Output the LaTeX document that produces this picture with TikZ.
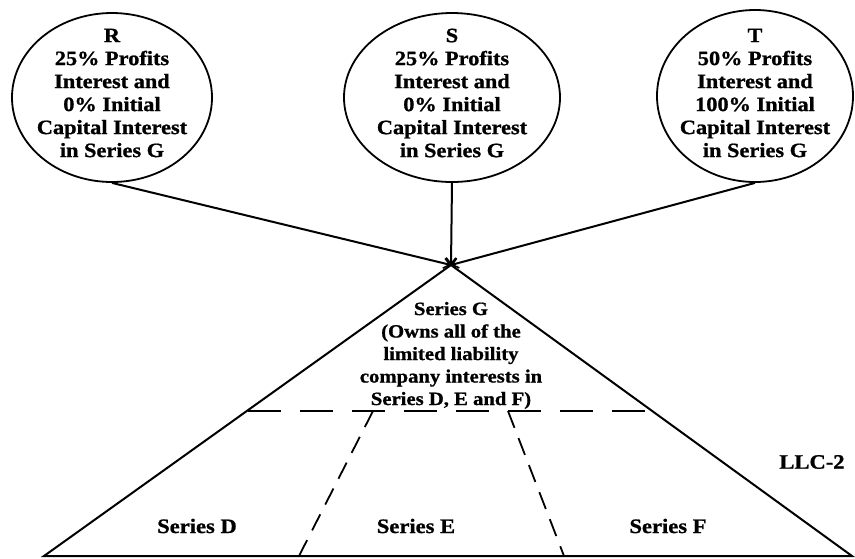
\documentclass[tikz,border=0pt]{standalone}
\usepackage{fontspec}
\setmainfont{Liberation Serif}[FakeStretch=1.1,BoldFeatures={FakeBold=1}]
\usetikzlibrary{shapes.geometric,arrows.meta}
\begin{document}
\begin{tikzpicture}[x=1pt,y=-1pt,
  oval/.style={ellipse,draw,line width=1.8pt,inner sep=0pt},
  ovaltext/.style={align=center,inner sep=0pt,font=\fontsize{20.3}{23}\selectfont\bfseries},
  gtext/.style={align=center,inner sep=0pt,font=\fontsize{18.8}{22.5}\selectfont\bfseries},
  lbl/.style={inner sep=0pt,font=\fontsize{20.5}{24}\selectfont\bfseries},
  link/.style={line width=2pt,-{Straight Barb[length=6pt,width=10pt,line width=1.6pt]}},
  edge/.style={line width=2pt},
  longdash/.style={line width=2pt,dash pattern=on 33pt off 19pt},
  slantdash/.style={line width=1.8pt,dash pattern=on 18pt off 11pt}]
\useasboundingbox (0,0) rectangle (855,558);
% owners
\node[oval,minimum width=200pt,minimum height=169pt] (R) at (112,97.5) {};
\node[oval,minimum width=216pt,minimum height=169pt] (S) at (452,97.5) {};
\node[oval,minimum width=196pt,minimum height=172pt] (T) at (755,96) {};
\node[ovaltext] (Rt) at (112,93) {R\\25\% Profits\\Interest and\\0\% Initial\\Capital Interest\\in Series G};
\node[ovaltext] (St) at (452,93) {S\\25\% Profits\\Interest and\\0\% Initial\\Capital Interest\\in Series G};
\node[ovaltext] (Tt) at (755,93) {T\\50\% Profits\\Interest and\\100\% Initial\\Capital Interest\\in Series G};
% triangle
\coordinate (apex) at (451,265);
\coordinate (bl) at (44,556);
\coordinate (br) at (852,556);
\draw[edge,line join=miter] (apex) -- (bl) -- (br) -- cycle;
\draw[link] (R.south) -- (apex);
\draw[link] (S.south) -- (apex);
\draw[link] (T.south) -- (apex);
% dashed divisions
\coordinate (hl) at (248,411);
\coordinate (hr) at (652,411);
\draw[longdash] (hl) -- (hr);
\coordinate (d1t) at (373,411);
\coordinate (d1b) at (299,556);
\coordinate (d2t) at (508,411);
\coordinate (d2b) at (564,556);
\draw[slantdash] (d1t) -- (d1b);
\draw[slantdash] (d2t) -- (d2b);
% labels
\node[gtext] (G) at (451,355.5) {Series G\\(Owns all of the\\limited liability\\company interests in\\Series D, E and F)};
\node[lbl] (D) at (197,526) {Series D};
\node[lbl] (E) at (416,526) {Series E};
\node[lbl] (F) at (668,526) {Series F};
\node[lbl] (L) at (812,462) {LLC-2};
\end{tikzpicture}
\end{document}
